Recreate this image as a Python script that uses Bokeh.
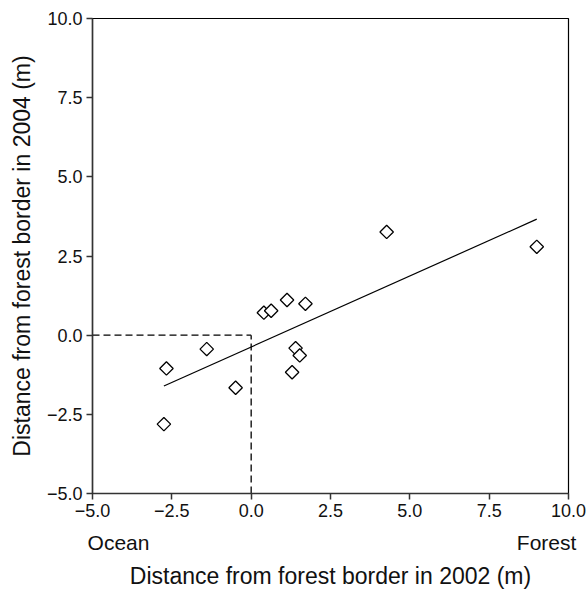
import numpy as np
from bokeh.plotting import figure
from bokeh.models import FixedTicker, Range1d, ColumnDataSource, LinearAxis
from bokeh.embed import file_html
from bokeh.resources import INLINE

# Data: distance from forest border (m)
x_2002 = [-2.67, -2.75, -1.40, -0.49, 0.40, 0.63, 1.13, 1.71, 1.40, 1.53, 1.29, 4.27, 9.00]
y_2004 = [-1.05, -2.81, -0.44, -1.66, 0.71, 0.77, 1.11, 0.99, -0.41, -0.64, -1.17, 3.26, 2.79]

tick_values = [-5.0, -2.5, 0.0, 2.5, 5.0, 7.5, 10.0]
tick_labels = ["\u22125.0", "\u22122.5", "0.0", "2.5", "5.0", "7.5", "10.0"]

x_label = "Distance from forest border in 2002 (m)"
y_label = "Distance from forest border in 2004 (m)"
end_positions = [-4.18, 9.31]
end_labels = ["Ocean", "Forest"]

FONT = "Liberation Sans"

p = figure(width=586, height=591, output_backend="svg", toolbar_location=None,
           x_range=Range1d(-5, 10), y_range=Range1d(-5, 10),
           min_border_left=92, min_border_right=18, min_border_top=18, min_border_bottom=96)

p.xgrid.visible = False
p.ygrid.visible = False
p.outline_line_color = "black"
p.outline_line_width = 1.2

overrides = {v: s for v, s in zip(tick_values, tick_labels)}
for ax in (p.xaxis[0], p.yaxis[0]):
    ax.ticker = FixedTicker(ticks=tick_values)
    ax.major_label_overrides = overrides
    ax.minor_tick_line_color = None
    ax.major_tick_in = 0
    ax.major_tick_out = 6
    ax.axis_line_color = "#333333"
    ax.axis_line_width = 1.5
    ax.major_tick_line_color = "#333333"
    ax.major_tick_line_width = 1.5
    ax.major_label_text_font = FONT
    ax.major_label_text_font_size = "18px"
    ax.major_label_text_color = "#111111"
    ax.axis_label_text_font = FONT
    ax.axis_label_text_font_size = "23px"
    ax.axis_label_text_font_style = "normal"
    ax.axis_label_text_color = "#111111"
    ax.major_label_standoff = 4

p.yaxis.axis_label = y_label
p.yaxis.axis_label_standoff = 9

# Second axis below carrying the Ocean / Forest end labels and the x title
end_axis = LinearAxis(ticker=FixedTicker(ticks=end_positions),
                      major_label_overrides={v: s for v, s in zip(end_positions, end_labels)})
end_axis.axis_line_color = None
end_axis.major_tick_line_color = None
end_axis.minor_tick_line_color = None
end_axis.major_tick_in = 0
end_axis.major_tick_out = 0
end_axis.major_label_standoff = 11
end_axis.major_label_text_font = FONT
end_axis.major_label_text_font_size = "21px"
end_axis.major_label_text_color = "#111111"
end_axis.axis_label = x_label
end_axis.axis_label_text_font = FONT
end_axis.axis_label_text_font_size = "23px"
end_axis.axis_label_text_font_style = "normal"
end_axis.axis_label_text_color = "#111111"
end_axis.axis_label_standoff = 6
p.add_layout(end_axis, "below")

# Reference dashed lines to the origin
p.line([-5, 0], [0, 0], line_color="black", line_width=1.3, line_dash="7 4")
p.line([0, 0], [-5, 0], line_color="black", line_width=1.3, line_dash="7 4")

# Regression line computed from data
xs = np.array(x_2002)
ys = np.array(y_2004)
slope, intercept = np.polyfit(xs, ys, 1)
lx = np.array([xs.min(), xs.max()])
p.line(lx, slope * lx + intercept, line_color="black", line_width=1.2)

src = ColumnDataSource(dict(x=x_2002, y=y_2004))
p.scatter("x", "y", source=src, marker="square", size=9.5, angle=np.pi / 4,
          fill_color="white", line_color="black", line_width=1.3)

open("out.html", "w").write(file_html(p, INLINE))
